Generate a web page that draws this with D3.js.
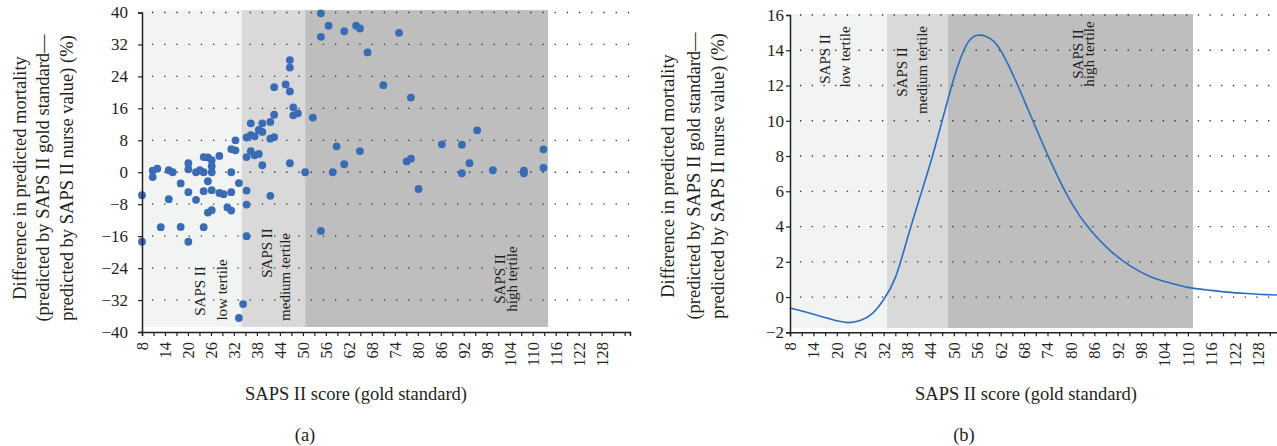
<!DOCTYPE html>
<html><head><meta charset="utf-8">
<script src="https://cdn.jsdelivr.net/npm/d3@7"></script>
<style>
body{margin:0;background:#fff}
text{font-family:"Liberation Serif","Times New Roman",serif;fill:#231f20}
</style>
</head><body>
<svg id="chart" width="1277" height="446"></svg>
<script>
// ---- data ----
const scatterX = [8,10.8,10.8,12,15,15,16,18.1,20.1,20.1,20.1,22.1,22.1,23.1,24.1,24.1,24.1,25.2,25.2,26.2,26.2,26.2,26.2,28.2,28.2,29.3,31.3,32.4,32.4,31.3,31.3,33.3,35.3,35.3,35.3,36.4,36.4,36.4,37.4,37.4,38.5,38.5,39.4,39.4,39.4,41.5,41.5,41.5,42.5,42.5,42.5,45.5,46.6,46.6,46.6,46.6,47.5,47.5,48.7,50.6,52.6,54.7,54.7,56.7,57.8,58.8,60.8,60.8,63.9,64.9,64.9,66.9,71,75.1,78.2,95.5,86.3,91.5,77.1,78.2,80.2,93.5,91.5,99.6,107.7,107.7,112.8,112.8,8,12.9,18.1,20.1,24.1,25.2,26.2,30.3,31.3,35.3,35.3,54.7,34.4,33.3];
const scatterY = [-5.75,0.4,-1.2,0.9,0.5,-6.75,0,-2.8,2.25,0.75,-5,0,-6.9,0.5,3.8,0,-4.75,-2.25,3.7,3,1.5,0,-4.5,4.1,-5.2,-5.5,5.8,5.5,8,0,-5,-2.7,3.8,8.7,-4.6,5.3,9.3,12.25,4.25,9,4.6,10.6,10.1,12.25,1.75,12.6,8.4,-5.9,8.8,14.4,21.3,22,20.25,26.2,28.1,2.25,16.25,14.25,14.75,0,13.7,39.8,33.9,36.7,0,6.5,35.3,2,36.7,36,5.3,30,21.8,34.9,18.7,10.5,7,6.9,2.7,3.4,-4.2,2.25,-0.25,0.5,0.4,-0.25,5.75,1.1,-17.4,-13.75,-13.7,-17.4,-13.75,-10.1,-9.5,-8.8,-9.6,-8.1,-16,-14.7,-33,-36.5];

const curveX = [8,12,16,20,23,26,29,32,35,38,41,44,47,50,53,56,60,63,66,69,72,75,80,85,90,95,100,105,110,115,120,125,130,136];
const curveY = [-0.62,-0.85,-1.1,-1.35,-1.45,-1.33,-0.95,-0.15,1.1,3.25,5.45,7.6,10.0,12.4,14.2,14.85,14.55,13.6,12.2,10.65,9.1,7.6,5.4,3.8,2.65,1.8,1.2,0.82,0.55,0.4,0.28,0.2,0.14,0.1];

const xTickLabels = [8,14,20,26,32,38,44,50,56,62,68,74,80,86,92,98,104,110,116,122,128];
const yTicksA = [-40,-32,-24,-16,-8,0,8,16,24,32,40];
const yTicksB = [-2,0,2,4,6,8,10,12,14,16];

const tertileBoundsA = [8, 34, 50.6, 114];
const tertileBoundsB = [8, 32.9, 48.5, 111.3];
const tertileNames = ["low tertile", "medium tertile", "high tertile"];
const bandColors = ["#f2f3f3", "#d9d9d9", "#bebebe"];

const yTitle = ["Difference in predicted mortality",
                "(predicted by SAPS II gold standard\u2014",
                "predicted by SAPS II nurse value) (%)"];
const xTitle = "SAPS II score (gold standard)";

// ---- drawing ----
const SERIF = '"Liberation Serif", "Times New Roman", serif';
const svg = d3.select("#chart");
svg.append("rect").attr("width",1277).attr("height",446).attr("fill","#fff");
const fmt = d => d < 0 ? "\u2212" + Math.abs(d) : String(d);

function panel(o){
  const g = svg.append("g");
  const x = d3.scaleLinear().domain([8, 135.4]).range([o.x0, o.x1]);
  const y = d3.scaleLinear().domain(o.yDomain).range([o.yB, o.yT]);

  for (let i = 0; i < 3; i++){
    g.append("rect")
      .attr("x", x(o.bounds[i]) + (i===0?1.5:0))
      .attr("width", x(o.bounds[i+1]) - x(o.bounds[i]) - (i===0?1.5:0))
      .attr("y", y(o.bandTop))
      .attr("height", y(o.bandBottom) - y(o.bandTop))
      .attr("fill", bandColors[i]);
  }
  o.yTicks.slice(1).forEach(v => {
    g.append("line")
      .attr("x1", o.x0 + 10).attr("x2", o.x1)
      .attr("y1", y(v)).attr("y2", y(v))
      .attr("stroke", "#333").attr("stroke-width", 1.3)
      .attr("stroke-dasharray", "1.3," + (o.dot - 1.3));
  });
  o.labels.forEach(l => {
    g.append("text")
      .attr("transform", `translate(${l[0]},${l[1]}) rotate(-90)`)
      .attr("text-anchor","middle")
      .style("font-size","15px")
      .text(l[2]);
  });

  o.marks(g, x, y);

  const labelSet = new Set(xTickLabels);
  const xa = g.append("g").attr("transform", `translate(0,${o.yB})`)
    .call(d3.axisBottom(x).tickValues(d3.range(8, 136, 3)).tickSize(4)
      .tickFormat(d => labelSet.has(d) ? d : ""));
  xa.attr("font-family", null).attr("font-size", null);
  xa.select(".domain").attr("stroke","#231f20").attr("stroke-width",1.5);
  xa.selectAll(".tick line").attr("stroke","#231f20").attr("stroke-width",1.2);
  xa.selectAll(".tick text")
    .attr("transform","rotate(-90)")
    .attr("x", -10).attr("y", 0).attr("dy","0.33em")
    .attr("text-anchor","end")
    .style("font-size","16.5px").style("font-family", SERIF).attr("fill","#231f20");

  const ya = g.append("g").attr("transform", `translate(${o.x0},0)`)
    .call(d3.axisLeft(y).tickValues(o.yTicks).tickSize(4).tickPadding(o.tickPad).tickFormat(fmt));
  ya.attr("font-family", null).attr("font-size", null);
  ya.select(".domain").attr("stroke","#231f20").attr("stroke-width",1.5);
  ya.selectAll(".tick line").attr("stroke","#231f20").attr("stroke-width",1.2);
  ya.selectAll(".tick text").style("font-size","17px").style("font-family", SERIF).attr("fill","#231f20");

  yTitle.forEach((t, i) => {
    g.append("text")
      .attr("transform", `translate(${o.titleX[i]},${o.titleY}) rotate(-90)`)
      .attr("text-anchor","middle").style("font-size","18.5px").text(t);
  });
  g.append("text").attr("x", o.xTitleX).attr("y", 400).attr("text-anchor","middle")
    .style("font-size","18.5px").text(xTitle);
  g.append("text").attr("x", o.capX).attr("y", 441).attr("text-anchor","middle")
    .style("font-size","18.5px").text(o.cap);
}

panel({
  x0: 142, x1: 630, yDomain: [-40, 40], yB: 332, yT: 12.5,
  bounds: tertileBoundsA, bandTop: 40.6, bandBottom: -38.75,
  yTicks: yTicksA, tickPad: 10, dot: 12.2,
  titleX: [26, 49, 73], titleY: 178, xTitleX: 356, capX: 305, cap: "(a)",
  labels: [
    [205, 291, "SAPS II"], [227, 290, tertileNames[0]],
    [272, 253, "SAPS II"], [290, 277, tertileNames[1]],
    [505, 279, "SAPS II"], [517, 279, tertileNames[2]]
  ],
  marks: (g, x, y) => {
    g.selectAll("circle.pt").data(scatterX.map((v, i) => [v, scatterY[i]]))
      .join("circle").attr("class","pt")
      .attr("cx", d => x(d[0])).attr("cy", d => y(d[1])).attr("r", 3.9)
      .attr("fill", "#3a6bb5");
  }
});

panel({
  x0: 790, x1: 1287, yDomain: [-2, 16], yB: 332.3, yT: 15,
  bounds: tertileBoundsB, bandTop: 16.05, bandBottom: -1.76,
  yTicks: yTicksB, tickPad: 2, dot: 11.7,
  titleX: [674, 700, 724], titleY: 176, xTitleX: 1026, capX: 964, cap: "(b)",
  labels: [
    [830, 59, "SAPS II"], [850, 57, tertileNames[0]],
    [907, 72, "SAPS II"], [927, 70, tertileNames[1]],
    [1083, 54, "SAPS II"], [1094, 54, tertileNames[2]]
  ],
  marks: (g, x, y) => {
    const line = d3.line().x((d, i) => x(curveX[i])).y(d => y(d)).curve(d3.curveNatural);
    g.append("path").datum(curveY).attr("d", line)
      .attr("fill","none").attr("stroke","#2a6fbf").attr("stroke-width",1.6);
  }
});
</script>
</body></html>
